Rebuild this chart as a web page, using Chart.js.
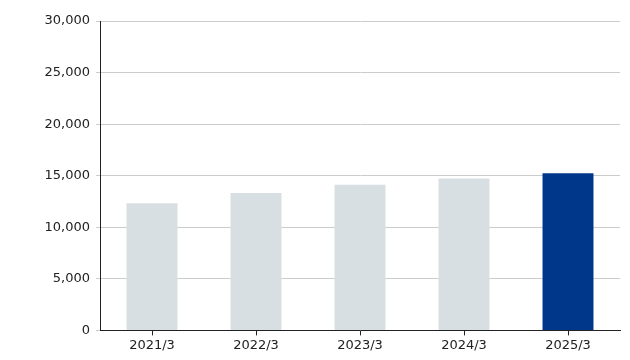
<!DOCTYPE html>
<html>
<head>
<meta charset="utf-8">
<script src="https://cdn.jsdelivr.net/npm/chart.js@4"></script>
<style>
  html, body { margin: 0; padding: 0; background: #fff; }
  #wrap { width: 630px; height: 360px; }
</style>
</head>
<body>
<div id="wrap"><canvas id="chart"></canvas></div>
<script>
// data
const years = ['2021/3', '2022/3', '2023/3', '2024/3', '2025/3'];
const values = [12320, 13320, 14130, 14740, 15230];
const barColors = ['#d8dfe2', '#d8dfe2', '#d8dfe2', '#d8dfe2', '#00378b'];

const yMax = 30000;
const yStep = 5000;

Chart.defaults.font.family = 'Verdana, "DejaVu Sans", sans-serif';
Chart.defaults.font.size = 13;
Chart.defaults.color = '#222';

new Chart(document.getElementById('chart'), {
    type: 'bar',
    data: {
        labels: years,
        datasets: [{
            data: values,
            backgroundColor: barColors,
            barPercentage: 0.49,
            categoryPercentage: 1.0
        }]
    },
    options: {
        responsive: true,
        maintainAspectRatio: false,
        animation: false,
        layout: { padding: { left: 0, right: 10, top: 21, bottom: 5 } },
        plugins: {
            legend: { display: false },
            tooltip: { enabled: false }
        },
        scales: {
            x: {
                grid: {
                    offset: false,
                    drawOnChartArea: false,
                    drawTicks: true,
                    tickLength: 5,
                    color: '#222'
                },
                border: { color: '#222', width: 1 },
                ticks: { padding: 2 }
            },
            y: {
                min: 0,
                max: yMax,
                afterFit: (axis) => { axis.width = 100; },
                ticks: {
                    stepSize: yStep,
                    padding: 6,
                    callback: (v) => v.toLocaleString('en-US')
                },
                grid: {
                    color: '#cccccc',
                    tickLength: 4
                },
                border: { color: '#222', width: 1 }
            }
        }
    }
});
</script>
</body>
</html>
